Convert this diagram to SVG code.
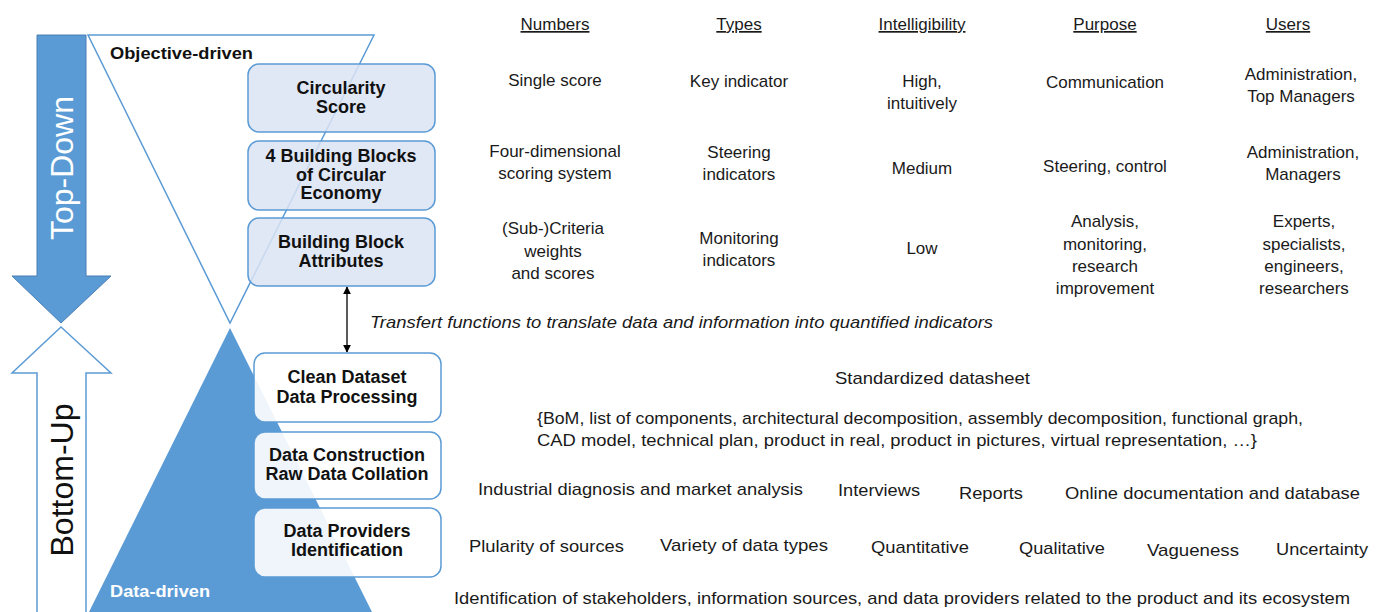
<svg xmlns="http://www.w3.org/2000/svg" width="1383" height="612" viewBox="0 0 1383 612">
<defs>
<style>
.t{font-family:"Liberation Sans",Arial,sans-serif;font-size:17px;fill:#1a1a1a;text-anchor:middle}
.tl{font-family:"Liberation Sans",Arial,sans-serif;font-size:17px;fill:#1a1a1a}
.h{font-family:"Liberation Sans",Arial,sans-serif;font-size:17px;fill:#1a1a1a;text-anchor:middle;text-decoration:underline}
.b{font-family:"Liberation Sans",Arial,sans-serif;font-size:18px;font-weight:bold;fill:#111;text-anchor:middle}
.boxT{fill:#dae3f3;fill-opacity:0.85;stroke:#5b9bd5;stroke-width:1.5}
.boxB{fill:#ffffff;fill-opacity:0.9;stroke:#5b9bd5;stroke-width:1.5}
</style>
<marker id="ah" viewBox="0 0 10 10" refX="9" refY="5" markerWidth="6" markerHeight="6" orient="auto-start-reverse">
<path d="M0,0 L10,5 L0,10 z" fill="#000"/>
</marker>
</defs>
<rect width="1383" height="612" fill="#ffffff"/>

<g id="top-down-arrow">
<polygon points="37,35 86,35 86,276 111,276 61,323 12,276 37,276" fill="#5b9bd5" stroke="#4a7fb5" stroke-width="1"/>
<text transform="translate(73,168) rotate(-90)" font-family="'Liberation Sans',Arial,sans-serif" font-size="32" fill="#ffffff" text-anchor="middle">Top-Down</text>
</g>
<g id="bottom-up-arrow">
<polygon points="61,327 111,373 86,373 86,616 37,616 37,373 12,373" fill="#ffffff" stroke="#5b9bd5" stroke-width="1.5"/>
<text transform="translate(73,480) rotate(-90)" font-family="'Liberation Sans',Arial,sans-serif" font-size="32" fill="#111" text-anchor="middle">Bottom-Up</text>
</g>

<g id="objective-triangle">
<polygon points="88,35 374,35 230,323" fill="none" stroke="#5b9bd5" stroke-width="1.5"/>
<text x="110" y="59" font-family="'Liberation Sans',Arial,sans-serif" font-size="17" font-weight="bold" fill="#111" textLength="143" lengthAdjust="spacingAndGlyphs">Objective-driven</text>
</g>
<g id="data-triangle">
<polygon points="230,328 374,616 87,616" fill="#5b9bd5"/>
<text x="110" y="597" font-family="'Liberation Sans',Arial,sans-serif" font-size="17" font-weight="bold" fill="#ffffff" textLength="100" lengthAdjust="spacingAndGlyphs">Data-driven</text>
</g>

<g id="connectors">
<line x1="347" y1="287" x2="347" y2="352" stroke="#000" stroke-width="1.3" marker-start="url(#ah)" marker-end="url(#ah)"/>
</g>

<g id="circularity-score">
<rect class="boxT" x="248" y="64" width="187" height="68" rx="11"/>
<text class="b" x="341" y="94">Circularity</text>
<text class="b" x="341" y="113">Score</text>
</g>
<g id="building-blocks">
<rect class="boxT" x="248" y="141" width="187" height="69" rx="11"/>
<text class="b" x="341" y="162">4 Building Blocks</text>
<text class="b" x="341" y="181">of Circular</text>
<text class="b" x="341" y="199">Economy</text>
</g>
<g id="block-attributes">
<rect class="boxT" x="248" y="218" width="187" height="68" rx="11"/>
<text class="b" x="341" y="248">Building Block</text>
<text class="b" x="341" y="267">Attributes</text>
</g>
<g id="clean-dataset">
<rect class="boxB" x="254" y="353" width="187" height="69" rx="11"/>
<text class="b" x="347" y="383">Clean Dataset</text>
<text class="b" x="347" y="403">Data Processing</text>
</g>
<g id="data-construction">
<rect class="boxB" x="254" y="432" width="187" height="67" rx="11"/>
<text class="b" x="347" y="461">Data Construction</text>
<text class="b" x="347" y="480">Raw Data Collation</text>
</g>
<g id="data-providers">
<rect class="boxB" x="254" y="508" width="187" height="69" rx="11"/>
<text class="b" x="347" y="537">Data Providers</text>
<text class="b" x="347" y="556">Identification</text>
</g>

<g id="table">
<text class="h" x="555" y="30">Numbers</text>
<text class="h" x="739" y="30">Types</text>
<text class="h" x="922" y="30">Intelligibility</text>
<text class="h" x="1105" y="30">Purpose</text>
<text class="h" x="1288" y="30">Users</text>

<text class="t" x="555" y="86">Single score</text>
<text class="t" x="739" y="87">Key indicator</text>
<text class="t" x="922" y="87">High,</text>
<text class="t" x="922" y="109">intuitively</text>
<text class="t" x="1105" y="88">Communication</text>
<text class="t" x="1301" y="80">Administration,</text>
<text class="t" x="1301" y="102">Top Managers</text>

<text class="t" x="555" y="157">Four-dimensional</text>
<text class="t" x="555" y="179">scoring system</text>
<text class="t" x="739" y="158">Steering</text>
<text class="t" x="739" y="180">indicators</text>
<text class="t" x="922" y="174">Medium</text>
<text class="t" x="1105" y="172">Steering, control</text>
<text class="t" x="1303" y="158">Administration,</text>
<text class="t" x="1303" y="180">Managers</text>

<text class="t" x="553" y="234">(Sub-)Criteria</text>
<text class="t" x="553" y="257">weights</text>
<text class="t" x="553" y="279">and scores</text>
<text class="t" x="739" y="244">Monitoring</text>
<text class="t" x="739" y="266">indicators</text>
<text class="t" x="922" y="254">Low</text>
<text class="t" x="1105" y="227">Analysis,</text>
<text class="t" x="1105" y="250">monitoring,</text>
<text class="t" x="1105" y="272">research</text>
<text class="t" x="1105" y="294">improvement</text>
<text class="t" x="1304" y="227">Experts,</text>
<text class="t" x="1304" y="250">specialists,</text>
<text class="t" x="1304" y="272">engineers,</text>
<text class="t" x="1304" y="294">researchers</text>
</g>

<g id="transfer-label">
<text class="tl" x="370" y="328" font-style="italic" textLength="623" lengthAdjust="spacingAndGlyphs">Transfert functions to translate data and information into quantified indicators</text>
</g>

<g id="data-texts">
<text class="tl" x="835" y="384" textLength="195" lengthAdjust="spacingAndGlyphs">Standardized datasheet</text>
<text class="tl" x="537" y="424" textLength="766" lengthAdjust="spacingAndGlyphs">{BoM, list of components, architectural decomposition, assembly decomposition, functional graph,</text>
<text class="tl" x="537" y="446" textLength="720" lengthAdjust="spacingAndGlyphs">CAD model, technical plan, product in real, product in pictures, virtual representation, …}</text>
<text class="tl" x="478" y="495" textLength="325" lengthAdjust="spacingAndGlyphs">Industrial diagnosis and market analysis</text>
<text class="tl" x="838" y="496" textLength="82" lengthAdjust="spacingAndGlyphs">Interviews</text>
<text class="tl" x="959" y="499" textLength="64" lengthAdjust="spacingAndGlyphs">Reports</text>
<text class="tl" x="1065" y="499" textLength="295" lengthAdjust="spacingAndGlyphs">Online documentation and database</text>
<text class="tl" x="469" y="552" textLength="155" lengthAdjust="spacingAndGlyphs">Plularity of sources</text>
<text class="tl" x="660" y="551" textLength="168" lengthAdjust="spacingAndGlyphs">Variety of data types</text>
<text class="tl" x="871" y="553" textLength="98" lengthAdjust="spacingAndGlyphs">Quantitative</text>
<text class="tl" x="1019" y="554" textLength="86" lengthAdjust="spacingAndGlyphs">Qualitative</text>
<text class="tl" x="1147" y="556" textLength="92" lengthAdjust="spacingAndGlyphs">Vagueness</text>
<text class="tl" x="1276" y="555" textLength="92" lengthAdjust="spacingAndGlyphs">Uncertainty</text>
<text class="tl" x="454" y="604" textLength="896" lengthAdjust="spacingAndGlyphs">Identification of stakeholders, information sources, and data providers related to the product and its ecosystem</text>
</g>
</svg>
